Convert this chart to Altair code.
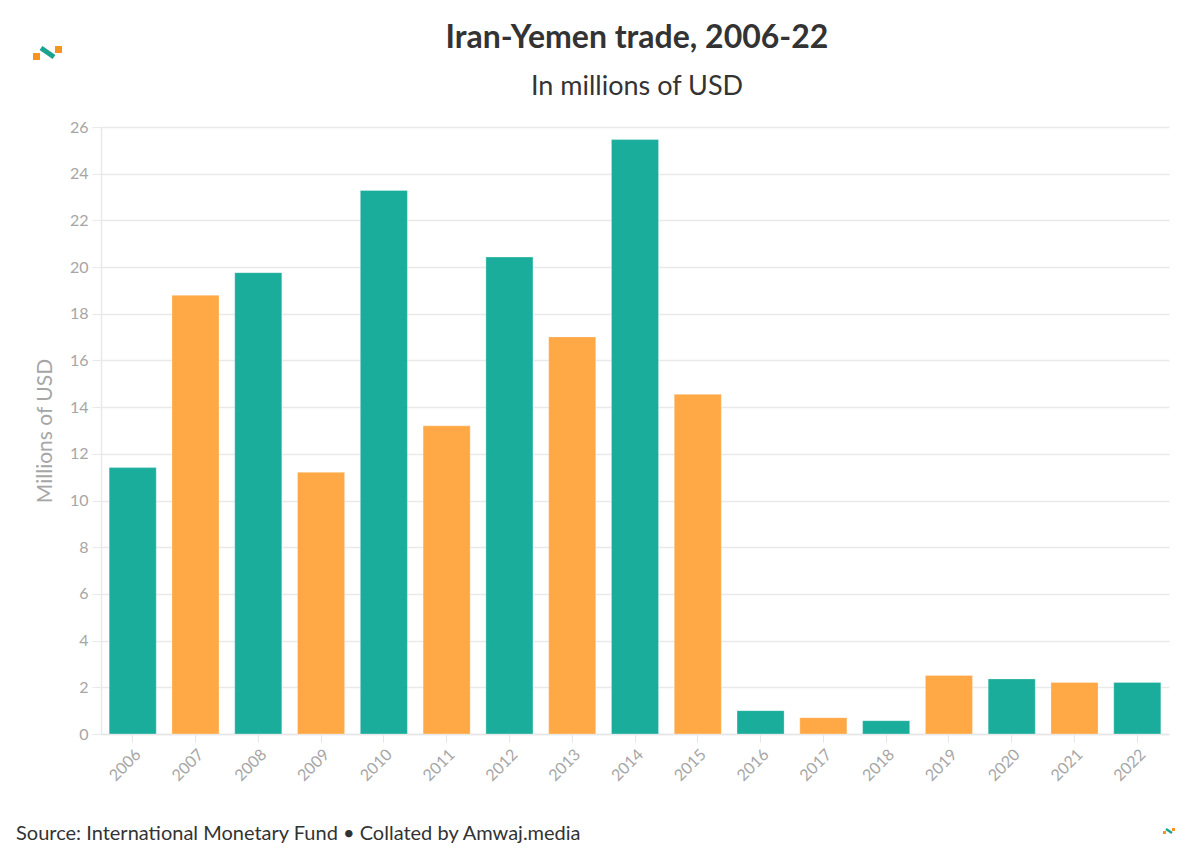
import altair as alt
import pandas as pd

years = ["2006", "2007", "2008", "2009", "2010", "2011", "2012", "2013", "2014",
         "2015", "2016", "2017", "2018", "2019", "2020", "2021", "2022"]
values = [11.41, 18.79, 19.76, 11.21, 23.28, 13.20, 20.43, 17.01, 25.46,
          14.55, 1.00, 0.70, 0.57, 2.51, 2.36, 2.21, 2.21]
groups = ["a", "b", "a", "b", "a", "b", "a", "b", "a",
          "b", "a", "b", "a", "b", "a", "b", "a"]
y_ticks = list(range(0, 27, 2))

title_text = "Iran-Yemen trade, 2006-22"
subtitle_text = "In millions of USD"
source_text = "Source: International Monetary Fund \u2022 Collated by Amwaj.media"

df = pd.DataFrame({"year": years, "value": values, "group": groups})

W, H = 1068, 607
FONT = "Lato"

bars = alt.Chart(df).mark_bar(stroke="#ffffff", strokeWidth=0.6, strokeOpacity=0.5).encode(
    x=alt.X("year:N", sort=years,
            scale=alt.Scale(paddingInner=0.25, paddingOuter=0.13),
            axis=alt.Axis(title=None, labelAngle=-45, labelFontSize=16, labelColor="#a6a6a6",
                          labelFont=FONT, domainColor="#e6e6e6", tickColor="#e6e6e6",
                          tickSize=8, labelPadding=4, domainWidth=1.5)),
    y=alt.Y("value:Q", scale=alt.Scale(domain=[0, 26], nice=False),
            axis=alt.Axis(title="Millions of USD", values=y_ticks, titleFontSize=21,
                          titleFont=FONT, titleFontWeight="normal", titleColor="#a6a6a6",
                          titlePadding=14, labelFontSize=16, labelColor="#a6a6a6", labelFont=FONT,
                          gridColor="#e9e9e9", gridWidth=1.5, domainColor="#e9e9e9",
                          domainWidth=1.5, tickColor="#e9e9e9", tickSize=9, labelPadding=4)),
    color=alt.Color("group:N", scale=alt.Scale(domain=["a", "b"], range=["#1aad9b", "#ffa845"]),
                    legend=None),
)

base = alt.Chart(pd.DataFrame({"k": [0]}))

title = base.mark_text(align="center", baseline="alphabetic", fontSize=32, font=FONT,
                       fontWeight="bold", color="#333333").encode(
    x=alt.value(W / 2 + 2), y=alt.value(-79), text=alt.value(title_text))
subtitle = base.mark_text(align="center", baseline="alphabetic", fontSize=27, font=FONT,
                          fontWeight=400, color="#333333").encode(
    x=alt.value(W / 2 + 2), y=alt.value(-32), text=alt.value(subtitle_text))

source = base.mark_text(align="left", baseline="alphabetic", fontSize=20,
                        font=FONT, fontWeight=400, color="#333333").encode(
    x=alt.value(-85), y=alt.value(H + 106), text=alt.value(source_text))

# small logos (decoration)
logo_o1 = base.mark_rect(color="#f7931e").encode(
    x=alt.value(-68), x2=alt.value(-61), y=alt.value(-74), y2=alt.value(-67))
logo_o2 = base.mark_rect(color="#f7931e").encode(
    x=alt.value(-46), x2=alt.value(-39), y=alt.value(-81), y2=alt.value(-74))
logo_t = base.mark_rule(color="#1aa38f", strokeWidth=5).encode(
    x=alt.value(-60), x2=alt.value(-47), y=alt.value(-79), y2=alt.value(-70))

logo2_o1 = base.mark_rect(color="#f7931e").encode(
    x=alt.value(1062), x2=alt.value(1065), y=alt.value(H + 97), y2=alt.value(H + 100))
logo2_o2 = base.mark_rect(color="#f7931e").encode(
    x=alt.value(1071), x2=alt.value(1074), y=alt.value(H + 94), y2=alt.value(H + 97))
logo2_t = base.mark_rule(color="#1aa38f", strokeWidth=2.5).encode(
    x=alt.value(1065), x2=alt.value(1071), y=alt.value(H + 95), y2=alt.value(H + 99))

chart = alt.layer(bars, title, subtitle, source, logo_o1, logo_o2, logo_t,
                  logo2_o1, logo2_o2, logo2_t).properties(
    width=W, height=H,
    padding={"left": 93, "top": 119, "right": 20, "bottom": 130},
    autosize=alt.AutoSizeParams(type="none"),
).configure(background="white").configure_view(stroke=None)

chart.save("out.html", embed_options={"renderer": "svg", "actions": False})
